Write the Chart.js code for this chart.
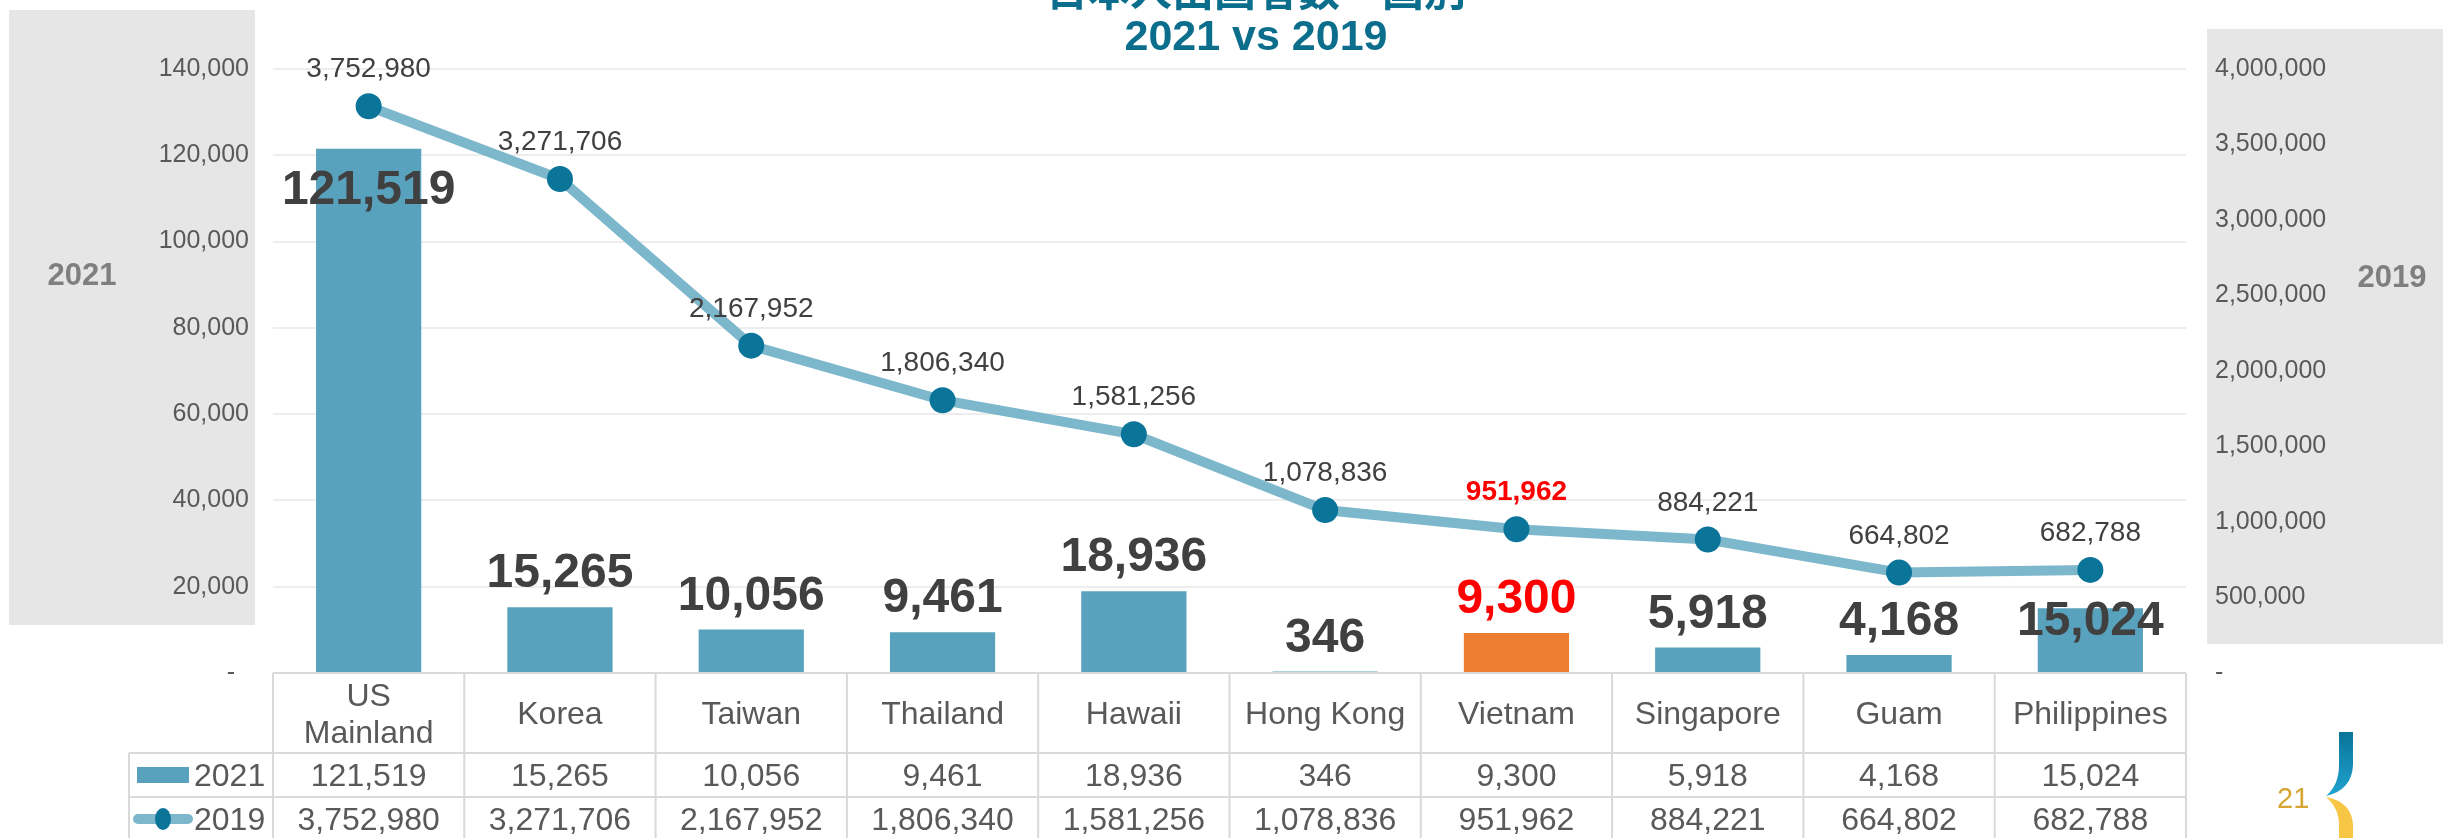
<!DOCTYPE html>
<html>
<head>
<meta charset="utf-8">
<title>2021 vs 2019</title>
<script src="https://cdn.jsdelivr.net/npm/chart.js@4"></script>
<style>
  body { margin: 0; background: #fff; }
  #wrap { width: 2443px; height: 838px; position: relative; }
</style>
</head>
<body>
<div id="wrap"><canvas id="chart" width="2443" height="838"></canvas></div>
<script>
const categories = [['US', 'Mainland'], 'Korea', 'Taiwan', 'Thailand', 'Hawaii', 'Hong Kong', 'Vietnam', 'Singapore', 'Guam', 'Philippines'];
const visitors2021 = [121519, 15265, 10056, 9461, 18936, 346, 9300, 5918, 4168, 15024];
const visitors2019 = [3752980, 3271706, 2167952, 1806340, 1581256, 1078836, 951962, 884221, 664802, 682788];
const leftTicks = [0, 20000, 40000, 60000, 80000, 100000, 120000, 140000];
const rightTicks = [0, 500000, 1000000, 1500000, 2000000, 2500000, 3000000, 3500000, 4000000];
const seriesNames = ['2021', '2019'];
const highlight = 'Vietnam';
const titleLines = ['日本人出国者数・国別', '2021 vs 2019'];

const FONT = '"Liberation Sans", Arial, sans-serif';
const BAR_COLOR = '#58A2BD';
const HIGHLIGHT_COLOR = '#ED7D31';
const LINE_COLOR = '#7DB7CB';
const POINT_COLOR = '#0A7499';
const TEXT_COLOR = '#595959';
const LABEL_COLOR = '#404040';

// bar labels sit above the bar, except where the picture moved them
const barLabelShift = { 0: 38, 9: 10 };

function fmt(v) {
    return v.toLocaleString('en-US');
}

function tickText(v) {
    return v === 0 ? '-  ' : fmt(v);
}

function isHighlight(i) {
    return categories[i] === highlight;
}

function textAt(ctx, text, x, centerY, size) {
    // place digits so that their visual middle is at centerY
    ctx.textBaseline = 'alphabetic';
    ctx.fillText(text, x, centerY + size * 0.358);
}

const decorPlugin = {
    id: 'decor',
    beforeDraw(chart) {
        const ctx = chart.ctx;
        ctx.save();
        ctx.fillStyle = '#E6E6E6';
        ctx.fillRect(9, 10, 246, 615);
        ctx.fillRect(2207, 29, 236, 615);
        ctx.fillStyle = '#7F7F7F';
        ctx.font = 'bold 31px ' + FONT;
        ctx.textAlign = 'center';
        textAt(ctx, seriesNames[0], 82, 274, 31);
        textAt(ctx, seriesNames[1], 2392, 276, 31);
        ctx.restore();
    },
    afterDraw(chart) {
        const ctx = chart.ctx;
        const area = chart.chartArea;
        const x = chart.scales.x;
        const colW = (area.right - area.left) / categories.length;
        ctx.save();

        // title
        ctx.fillStyle = '#0B6E8C';
        ctx.textAlign = 'center';
        ctx.textBaseline = 'alphabetic';
        ctx.font = 'bold 42px "Noto Sans CJK JP", ' + FONT;
        ctx.fillText(titleLines[0], 1256, 6);
        ctx.font = 'bold 43px ' + FONT;
        ctx.fillText(titleLines[1], 1256, 50);

        // line labels
        const lineMeta = chart.getDatasetMeta(1);
        lineMeta.data.forEach((pt, i) => {
            const hl = isHighlight(i);
            ctx.fillStyle = hl ? '#FF0000' : LABEL_COLOR;
            ctx.font = (hl ? 'bold ' : '') + '28px ' + FONT;
            textAt(ctx, fmt(visitors2019[i]), pt.x, pt.y - 39, 28);
        });

        // bar labels
        const barMeta = chart.getDatasetMeta(0);
        barMeta.data.forEach((bar, i) => {
            const shift = barLabelShift[i] !== undefined ? barLabelShift[i] : -37;
            ctx.fillStyle = isHighlight(i) ? '#FF0000' : LABEL_COLOR;
            ctx.font = 'bold 48px ' + FONT;
            textAt(ctx, fmt(visitors2021[i]), bar.x, bar.y + shift, 48);
        });

        // data table
        const top = area.bottom;
        const rowA = top + 80;
        const rowB = rowA + 44;
        const rowC = rowB + 44;
        const legendLeft = 129;
        ctx.strokeStyle = '#D9D9D9';
        ctx.lineWidth = 2;
        ctx.beginPath();
        ctx.moveTo(area.left, top); ctx.lineTo(area.right, top);
        ctx.moveTo(legendLeft, rowA); ctx.lineTo(area.right, rowA);
        ctx.moveTo(legendLeft, rowB); ctx.lineTo(area.right, rowB);
        ctx.moveTo(legendLeft, rowA); ctx.lineTo(legendLeft, rowC);
        for (let i = 0; i <= categories.length; i++) {
            const cx = area.left + i * colW;
            ctx.moveTo(cx, top); ctx.lineTo(cx, rowC);
        }
        ctx.stroke();

        ctx.fillStyle = TEXT_COLOR;
        ctx.font = '32px ' + FONT;
        ctx.textAlign = 'center';
        categories.forEach((cat, i) => {
            const cx = x.getPixelForValue(i);
            const lines = Array.isArray(cat) ? cat : [cat];
            const mid = (top + rowA) / 2;
            lines.forEach((ln, j) => {
                textAt(ctx, ln, cx, mid + (j - (lines.length - 1) / 2) * 37, 32);
            });
            textAt(ctx, fmt(visitors2021[i]), cx, (rowA + rowB) / 2, 32);
            textAt(ctx, fmt(visitors2019[i]), cx, (rowB + rowC) / 2, 32);
        });

        // legend keys in the table
        const midA = (rowA + rowB) / 2;
        const midB = (rowB + rowC) / 2;
        ctx.fillStyle = BAR_COLOR;
        ctx.fillRect(137, midA - 8, 52, 16);
        ctx.strokeStyle = LINE_COLOR;
        ctx.lineWidth = 10;
        ctx.lineCap = 'round';
        ctx.beginPath();
        ctx.moveTo(138, midB); ctx.lineTo(188, midB);
        ctx.stroke();
        ctx.fillStyle = POINT_COLOR;
        ctx.beginPath();
        ctx.ellipse(163, midB, 8, 11, 0, 0, Math.PI * 2);
        ctx.fill();
        ctx.fillStyle = TEXT_COLOR;
        ctx.textAlign = 'left';
        textAt(ctx, seriesNames[0], 194, midA, 32);
        textAt(ctx, seriesNames[1], 194, midB, 32);

        // page number and logo
        ctx.fillStyle = '#D6A532';
        ctx.font = '29px ' + FONT;
        textAt(ctx, '21', 2277, 798, 29);
        const blue = ctx.createLinearGradient(0, 732, 0, 796);
        blue.addColorStop(0, '#0A7499');
        blue.addColorStop(1, '#1FA3CF');
        ctx.fillStyle = blue;
        ctx.beginPath();
        ctx.moveTo(2339, 732);
        ctx.lineTo(2353, 732);
        ctx.lineTo(2353, 765);
        ctx.quadraticCurveTo(2352, 790, 2326, 796);
        ctx.quadraticCurveTo(2339, 785, 2339, 765);
        ctx.closePath();
        ctx.fill();
        ctx.fillStyle = '#F6C644';
        ctx.beginPath();
        ctx.moveTo(2326, 797);
        ctx.quadraticCurveTo(2352, 802, 2353, 825);
        ctx.lineTo(2353, 838);
        ctx.lineTo(2339, 838);
        ctx.lineTo(2339, 825);
        ctx.quadraticCurveTo(2339, 808, 2326, 797);
        ctx.closePath();
        ctx.fill();

        ctx.restore();
    }
};

new Chart(document.getElementById('chart'), {
    type: 'bar',
    data: {
        labels: categories,
        datasets: [{
            label: seriesNames[0],
            data: visitors2021,
            backgroundColor: categories.map((c, i) => isHighlight(i) ? HIGHLIGHT_COLOR : BAR_COLOR),
            barPercentage: 0.55,
            categoryPercentage: 1,
            yAxisID: 'y',
            order: 2
        }, {
            type: 'line',
            label: seriesNames[1],
            data: visitors2019,
            borderColor: LINE_COLOR,
            borderWidth: 10,
            pointRadius: 13,
            pointBackgroundColor: POINT_COLOR,
            pointBorderWidth: 0,
            tension: 0,
            yAxisID: 'y2',
            order: 1
        }]
    },
    options: {
        responsive: false,
        devicePixelRatio: 1,
        animation: false,
        events: [],
        layout: { padding: { top: 69, bottom: 165, left: 0, right: 0 } },
        plugins: {
            legend: { display: false },
            tooltip: { enabled: false }
        },
        scales: {
            x: { display: false, offset: true },
            y: {
                position: 'left',
                min: leftTicks[0],
                max: leftTicks[leftTicks.length - 1],
                afterBuildTicks: s => { s.ticks = leftTicks.map(v => ({ value: v })); },
                afterFit: s => { s.width = 273; },
                border: { display: false },
                grid: { color: '#EDEDED', lineWidth: 2, drawTicks: false },
                ticks: {
                    padding: 24,
                    color: TEXT_COLOR,
                    font: { family: FONT, size: 25 },
                    callback: v => tickText(v)
                }
            },
            y2: {
                position: 'right',
                min: rightTicks[0],
                max: rightTicks[rightTicks.length - 1],
                afterBuildTicks: s => { s.ticks = rightTicks.map(v => ({ value: v })); },
                afterFit: s => { s.width = 257; },
                border: { display: false },
                grid: { display: false, drawTicks: false },
                ticks: {
                    padding: 29,
                    color: TEXT_COLOR,
                    font: { family: FONT, size: 25 },
                    callback: v => tickText(v)
                }
            }
        }
    },
    plugins: [decorPlugin]
});
</script>
</body>
</html>
